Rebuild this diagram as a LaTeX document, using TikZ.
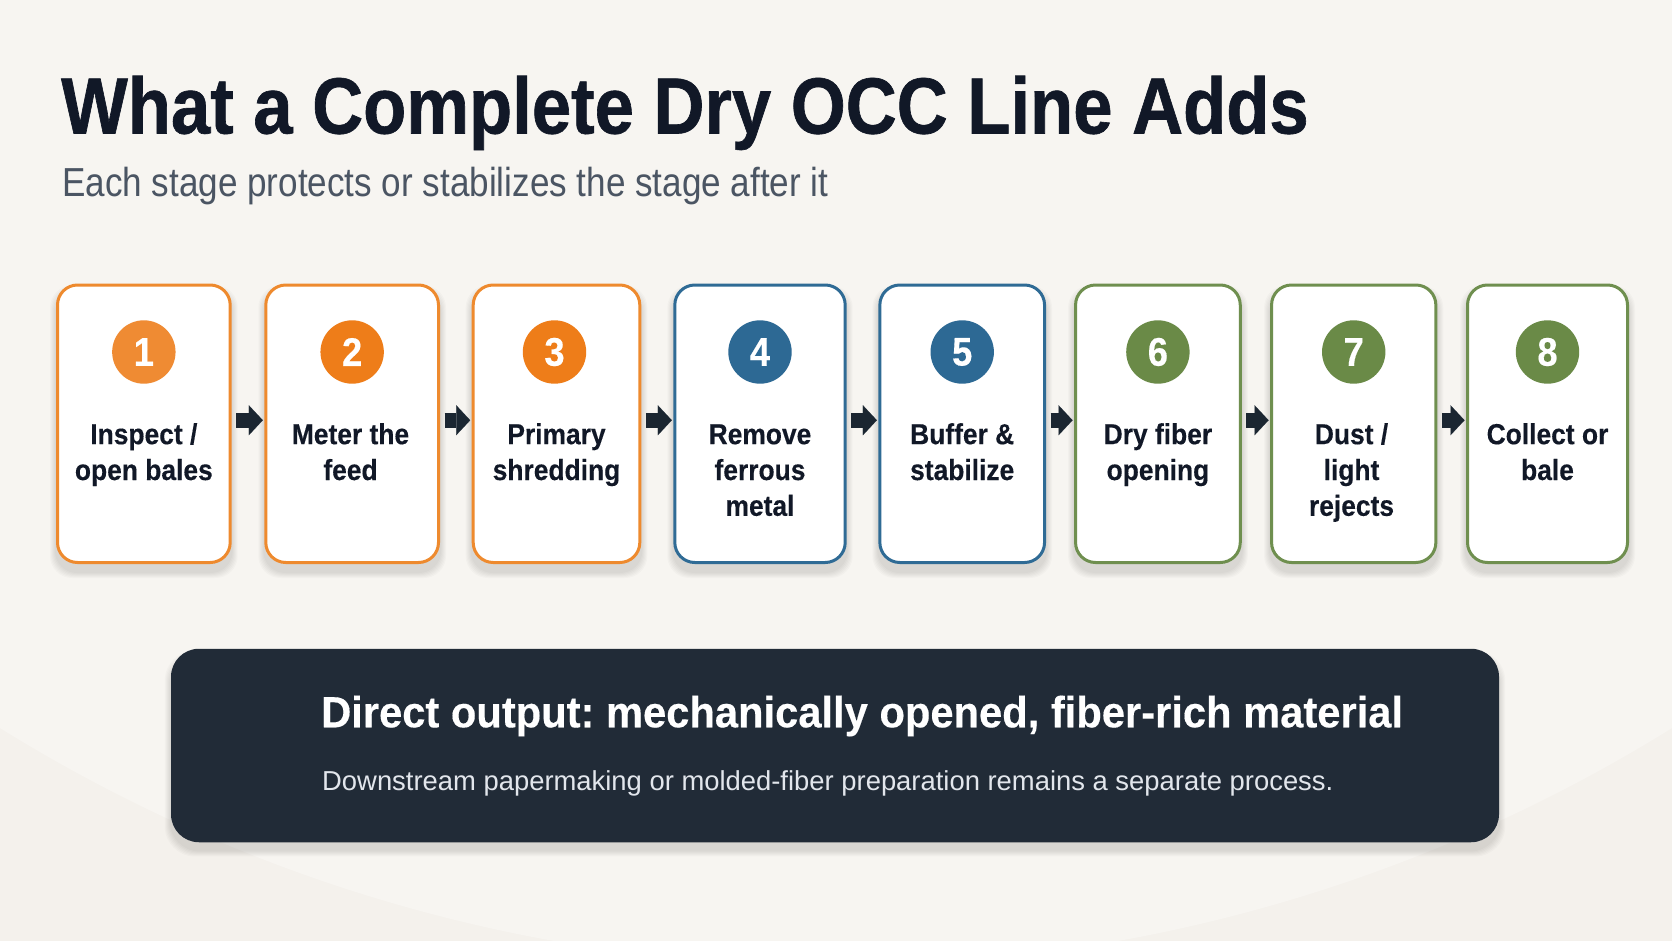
\documentclass[tikz,border=0pt]{standalone}
\usepackage{fontspec}
\setmainfont{Liberation Sans}
\newfontfamily\titlefont[FakeStretch=0.887,FakeBold=0.8]{Liberation Sans}
\newfontfamily\subfont[FakeStretch=0.866]{Liberation Sans}
\newfontfamily\boxfont[FakeStretch=0.91,FakeBold=0.3]{Liberation Sans}
\newfontfamily\panelfont[FakeStretch=0.954,FakeBold=0.3]{Liberation Sans}
\usetikzlibrary{arrows.meta,calc}
\pgfdeclarelayer{back}\pgfdeclarelayer{shade}
\pgfsetlayers{back,shade,main}
\frenchspacing
\definecolor{bgc}{HTML}{F4F1EC}
\definecolor{bglight}{HTML}{F7F5F1}
\definecolor{ink}{HTML}{111827}
\definecolor{subc}{HTML}{4B5563}
\definecolor{orangeB}{HTML}{EE8A2E}
\definecolor{orangeC}{HTML}{EE7D19}
\definecolor{orangeCa}{HTML}{EF8B33}
\definecolor{blueB}{HTML}{2F6B95}
\definecolor{blueC}{HTML}{2D6994}
\definecolor{greenB}{HTML}{6F8F4F}
\definecolor{greenC}{HTML}{6A8A47}
\definecolor{panelc}{HTML}{212B37}
\definecolor{arrowk}{HTML}{1B2631}
\definecolor{panelsub}{HTML}{E2E6EC}
\newcommand\myshadow[2]{%
  \begin{pgfonlayer}{shade}
    \foreach \k in {1,...,6} {
      \fill[black, opacity=0.018, rounded corners=#2]
        ($(#1.north west)+(-\k,-\k+8)$) rectangle ($(#1.south east)+(\k,\k+8)$);
    }
  \end{pgfonlayer}}
\tikzset{
  stagebox/.style={draw, line width=3pt, rounded corners=20pt, fill=white,
    minimum height=277.5pt, inner sep=0pt},
  numdot/.style={circle, minimum size=63.4pt, inner sep=0pt, text=white,
    font=\boxfont\bfseries\fontsize{40}{40}\selectfont},
  stagetext/.style={anchor=north, align=center, inner sep=0pt, text=ink,
    font=\boxfont\bfseries\fontsize{29}{35.8}\selectfont},
  flowarrow/.style={draw=arrowk, line width=15pt,
    -{Triangle[length=14pt,width=30pt,line width=0.1pt]},
    shorten <=4.5pt, shorten >=1.5pt},
  plain/.style={anchor=base west, inner sep=0pt}
}
\begin{document}
\begin{tikzpicture}[x=1pt,y=-1pt]
\useasboundingbox (0,0) rectangle (1672,941);
\begin{pgfonlayer}{back}
  \begin{scope}
    \clip (0,0) rectangle (1672,941);
    \fill[bgc] (0,0) rectangle (1672,941);
    \fill[bglight] (836,-620) circle (1586pt);
  \end{scope}
\end{pgfonlayer}

% title
\node[plain, text=ink, font=\titlefont\bfseries\fontsize{79.6}{90}\selectfont] (title) at (61,133.5) {What a Complete Dry OCC Line Adds};
\node[plain, text=subc, font=\subfont\fontsize{40.5}{48}\selectfont] (subtitle) at (62,197) {Each stage protects or stabilizes the stage after it};

% stage boxes
\node[stagebox, draw=orangeB, minimum width=172.7pt] (b1) at (143.85,423.75) {};
\node[stagebox, draw=orangeB, minimum width=172.7pt] (b2) at (352.15,423.75) {};
\node[stagebox, draw=orangeB, minimum width=166.6pt] (b3) at (556.5,423.75) {};
\node[stagebox, draw=blueB, minimum width=170.4pt] (b4) at (760,423.75) {};
\node[stagebox, draw=blueB, minimum width=164.7pt] (b5) at (962.2,423.75) {};
\node[stagebox, draw=greenB, minimum width=164.7pt] (b6) at (1157.9,423.75) {};
\node[stagebox, draw=greenB, minimum width=164.3pt] (b7) at (1353.7,423.75) {};
\node[stagebox, draw=greenB, minimum width=160pt] (b8) at (1547.5,423.75) {};
\foreach \b in {b1,b2,b3,b4,b5,b6,b7,b8} {\myshadow{\b}{22pt}}

% number dots
\node[numdot, fill=orangeCa] (n1) at (143.85,352) {1};
\node[numdot, fill=orangeC] (n2) at (352.15,352) {2};
\node[numdot, fill=orangeC] (n3) at (554.5,352) {3};
\node[numdot, fill=blueC] (n4) at (760,352) {4};
\node[numdot, fill=blueC] (n5) at (962.2,352) {5};
\node[numdot, fill=greenC] (n6) at (1157.9,352) {6};
\node[numdot, fill=greenC] (n7) at (1353.7,352) {7};
\node[numdot, fill=greenC] (n8) at (1547.5,352) {8};

% stage texts
\node[stagetext] (t1) at (143.85,414) {\rule{0pt}{30pt}Inspect /\\open bales};
\node[stagetext] (t2) at (350.5,414) {\rule{0pt}{30pt}Meter the\\feed};
\node[stagetext] (t3) at (556.5,414) {\rule{0pt}{30pt}Primary\\shredding};
\node[stagetext] (t4) at (760,414) {\rule{0pt}{30pt}Remove\\ferrous\\metal};
\node[stagetext] (t5) at (962.2,414) {\rule{0pt}{30pt}Buffer \&\\stabilize};
\node[stagetext] (t6) at (1157.9,414) {\rule{0pt}{30pt}Dry fiber\\opening};
\node[stagetext] (t7) at (1351.5,414) {\rule{0pt}{30pt}Dust /\\light\\rejects};
\node[stagetext] (t8) at (1547.5,414) {\rule{0pt}{30pt}Collect or\\bale};

% arrows
\foreach \a/\b in {b1/b2,b2/b3,b3/b4,b4/b5,b5/b6,b6/b7,b7/b8}
  \draw[flowarrow] ([yshift=3.5pt]\a.east) -- ([yshift=3.5pt]\b.west);

% output panel
\node[fill=panelc, rounded corners=28pt, minimum width=1328pt, minimum height=193.5pt, inner sep=0pt] (panel) at (835,745.5) {};
\myshadow{panel}{30pt}
\node[plain, text=white, font=\panelfont\bfseries\fontsize{43.7}{50}\selectfont] (ptitle) at (321,727.3) {Direct output: mechanically opened, fiber-rich material};
\node[plain, text=panelsub, font=\fontsize{27.4}{32}\selectfont] (psub) at (322,790.7) {Downstream papermaking or molded-fiber preparation remains a separate process.};
\end{tikzpicture}
\end{document}
